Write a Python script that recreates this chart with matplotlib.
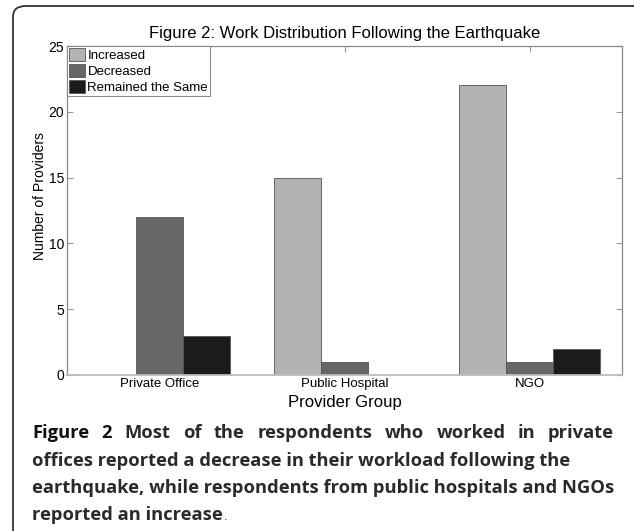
import numpy as np
import matplotlib
matplotlib.use('Agg')
import matplotlib.pyplot as plt
from matplotlib.patches import FancyBboxPatch

# data
groups = ['Private Office', 'Public Hospital', 'NGO']
increased = [0, 15, 22]
decreased = [12, 1, 1]
same = [3, 0, 2]
series_names = ['Increased', 'Decreased', 'Remained the Same']
colors = ['#b3b3b3', '#676767', '#1b1b1b']

title = 'Figure 2: Work Distribution Following the Earthquake'
caption_lines = [
    'Most of the respondents who worked in private',
    'offices reported a decrease in their workload following the',
    'earthquake, while respondents from public hospitals and NGOs',
    'reported an increase',
]

plt.rcParams['font.family'] = ['Liberation Sans', 'DejaVu Sans']

W, H = 634, 531
fig = plt.figure(figsize=(W / 100, H / 100), dpi=100)

# outer rounded frame
frame = FancyBboxPatch((13 / W, -20 / H), 700 / W, (525 + 20) / H,
                       boxstyle='round,pad=0,rounding_size=0.02',
                       transform=fig.transFigure, fill=False,
                       edgecolor='#333333', linewidth=1.3)
fig.patches.append(frame)

ax = fig.add_axes([67 / W, (H - 375) / H, (622 - 67) / W, (375 - 46) / H])
x = np.arange(1, len(groups) + 1)
bw = 0.255
for k, (vals, name, c) in enumerate(zip([increased, decreased, same], series_names, colors)):
    ax.bar(x + (k - 1) * bw, vals, width=bw, color=c, edgecolor='#555555',
           linewidth=0.6, label=name, zorder=2)

ax.set_xlim(0.5, 3.5)
ax.set_ylim(0, 25)
ax.set_yticks([0, 5, 10, 15, 20, 25])
ax.set_xticks(x)
ax.set_xticklabels(groups, fontsize=9.5)
ax.tick_params(axis='y', labelsize=10)
ax.tick_params(direction='in', top=True, right=True, length=4, color='#999999', pad=2)
for s in ax.spines.values():
    s.set_color('#8a8a8a')
    s.set_linewidth(0.9)
ax.spines['bottom'].set_color('#bbbbbb')
ax.spines['bottom'].set_linewidth(1.3)

ax.set_xlabel('Provider Group', fontsize=12, labelpad=4)
ax.set_ylabel('Number of Providers', fontsize=10)
ax.yaxis.set_label_coords(-(67 - 47) / (622 - 67), (375 - 196) / (375 - 46))
ax.set_title(title, fontsize=12, pad=6)

leg = ax.legend(loc='upper left', borderaxespad=0, fancybox=False, fontsize=9.5,
                handlelength=1.25, handleheight=1.15, handletextpad=0.15,
                labelspacing=0.15, borderpad=0.15, framealpha=1)
leg.get_frame().set_edgecolor('#8a8a8a')
leg.get_frame().set_linewidth(0.8)

# caption, first line justified
cap_font = ['Open Sans', 'DejaVu Sans']
cap_size = 13.2
left_px, right_px = 32, 614
line_y = [438, 466, 493, 520]
renderer = fig.canvas.get_renderer()

words = ['Figure', '2'] + caption_lines[0].split()
arts = []
for i, w in enumerate(words):
    t = fig.text(0, 0, w, fontsize=cap_size, family=cap_font, weight='bold',
                 color='#111111' if i < 2 else '#2a2a2a',
                 va='baseline', ha='left')
    arts.append(t)
widths = [a.get_window_extent(renderer).width for a in arts]
gap = (right_px - left_px - sum(widths)) / (len(words) - 1)
pos = left_px
for a, wd in zip(arts, widths):
    a.set_position((pos / W, 1 - line_y[0] / H))
    pos += wd + gap

for txt, yy in zip(caption_lines[1:], line_y[1:]):
    t = fig.text(left_px / W, 1 - yy / H, txt, fontsize=cap_size, family=cap_font,
                 weight='bold', color='#2a2a2a', va='baseline', ha='left')
last = t
bb = last.get_window_extent(renderer)
fig.text((bb.x1 + 1) / W, 1 - line_y[-1] / H, '.', fontsize=9, color='#222222',
         va='baseline', ha='left')

fig.savefig('out.png', dpi=100)
